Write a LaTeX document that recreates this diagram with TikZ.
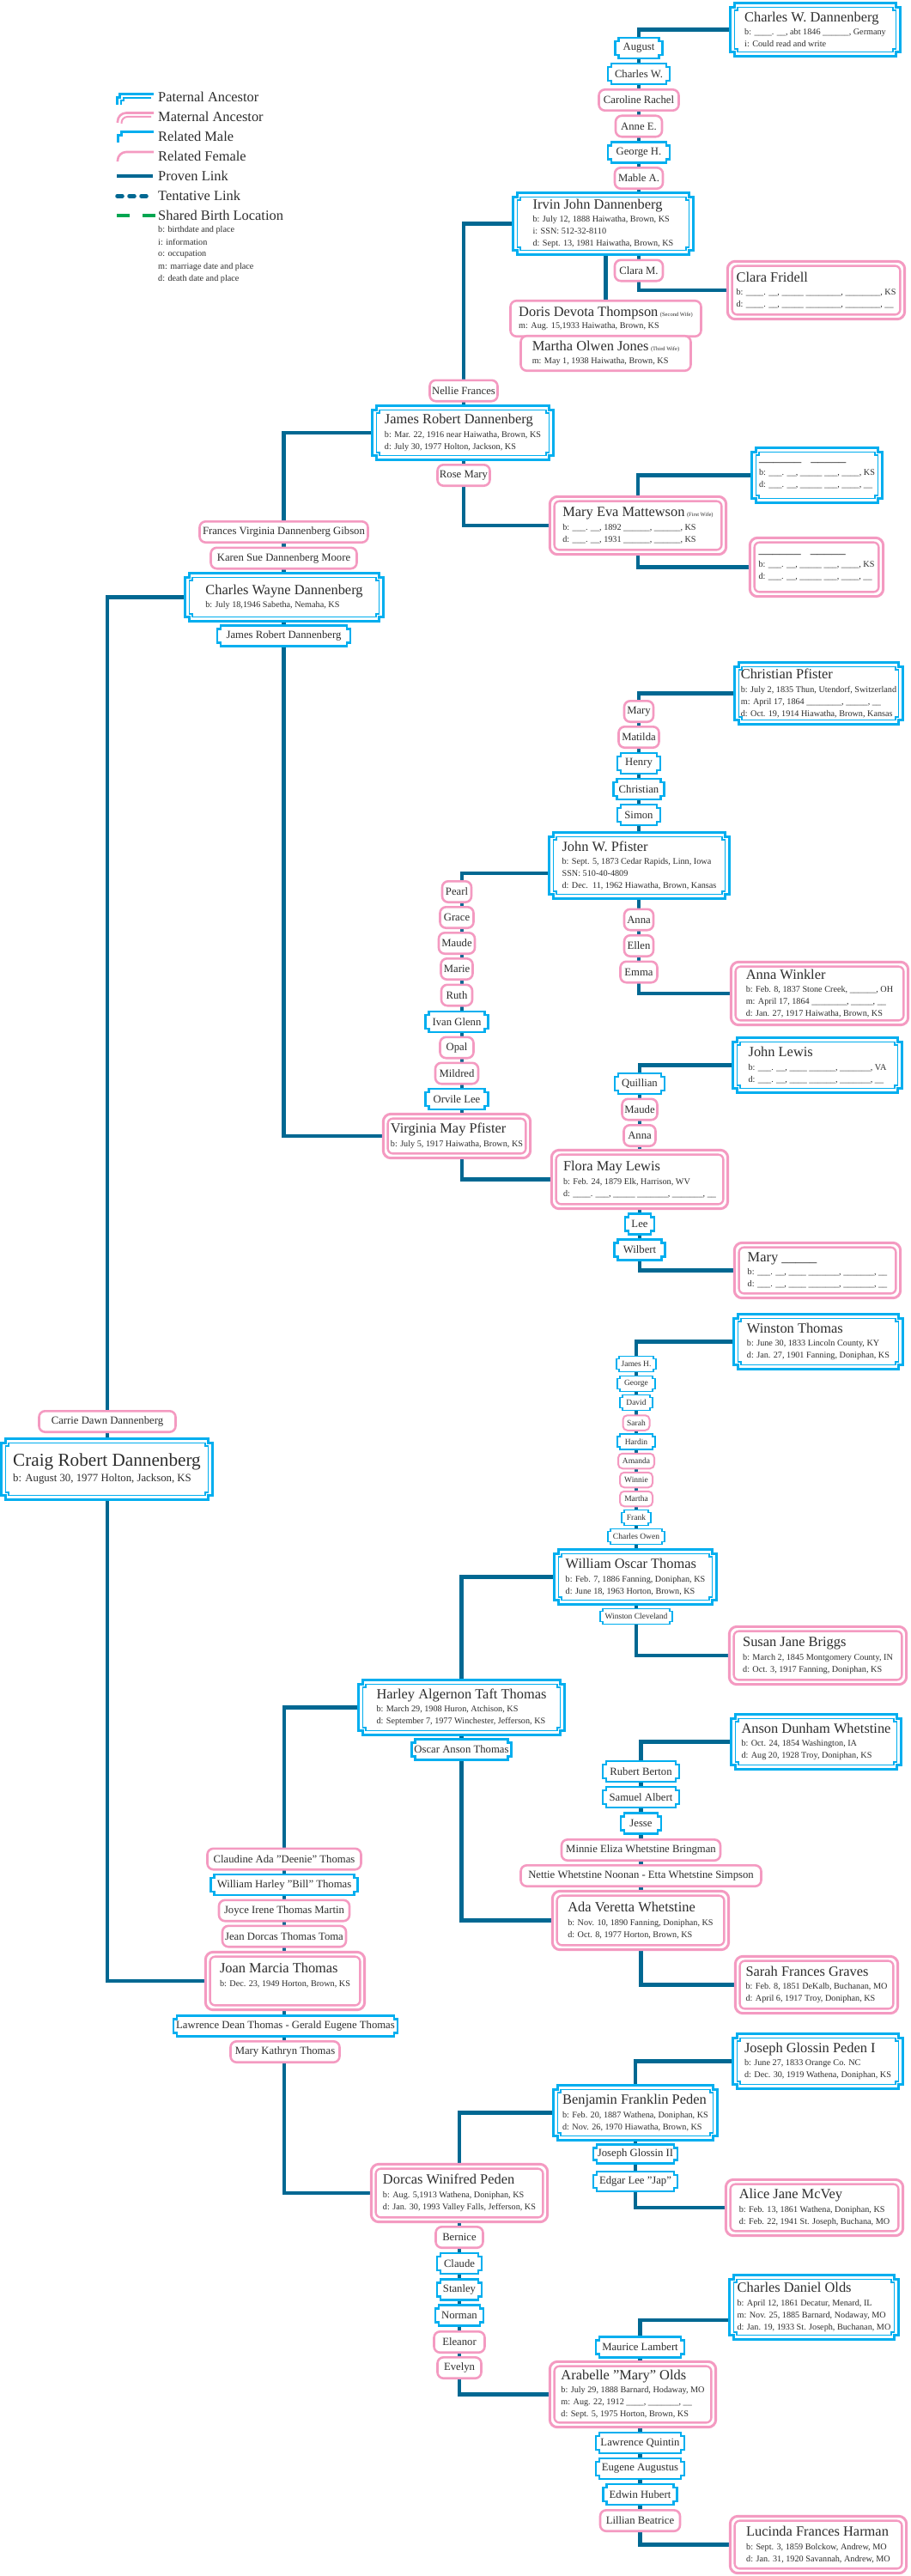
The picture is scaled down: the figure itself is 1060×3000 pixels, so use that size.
\documentclass[tikz,border=0pt]{standalone}
\usepackage{fontspec}
\setmainfont{Liberation Serif}
\usetikzlibrary{calc}
\definecolor{mblue}{RGB}{0,174,239}
\definecolor{fpink}{RGB}{244,154,193}
\definecolor{linkc}{RGB}{0,104,146}
\definecolor{birthg}{RGB}{0,166,81}
\definecolor{txtc}{RGB}{45,45,45}
\pgfdeclarelayer{background}
\pgfsetlayers{background,main}
\newcommand\pname[1]{{\fontsize{16.4pt}{17pt}\selectfont #1}}
\newcommand\wifenote[1]{{\fontsize{6.5pt}{7pt}\selectfont #1}}
% notched frame round a node: node, inset, notch
\newcommand\notchpath[3]{let \p1=(#1.north west), \p2=(#1.south east) in
  (\x1+#2+#3,\y1-#2) -- (\x2-#2-#3,\y1-#2) -- (\x2-#2-#3,\y1-#2-#3) -- (\x2-#2,\y1-#2-#3)
  -- (\x2-#2,\y2+#2+#3) -- (\x2-#2-#3,\y2+#2+#3) -- (\x2-#2-#3,\y2+#2)
  -- (\x1+#2+#3,\y2+#2) -- (\x1+#2+#3,\y2+#2+#3) -- (\x1+#2,\y2+#2+#3)
  -- (\x1+#2,\y1-#2-#3) -- (\x1+#2+#3,\y1-#2-#3) -- cycle}
\begin{document}
\begin{tikzpicture}[x=1pt, y=-1pt,
    every node/.style={text=txtc},
    pat/.style={fill=white, inner sep=0pt, align=left, font=\fontsize{10.2pt}{14pt}\selectfont},
    mat/.style={pat},
    male/.style={fill=white, inner sep=0pt, minimum height=26pt, font=\fontsize{12.7pt}{14pt}\selectfont},
    smale/.style={male, minimum height=19.5pt, font=\fontsize{9.5pt}{11pt}\selectfont},
    female/.style={male, draw=fpink, line width=2.6pt, rounded corners=7pt, minimum height=24.4pt},
    sfemale/.style={female, line width=2pt, rounded corners=5pt, minimum height=17.5pt, font=\fontsize{9.5pt}{11pt}\selectfont},
    link/.style={draw=linkc, line width=4.5pt},
    patout/.style={draw=mblue, line width=3.6pt},
    patin/.style={draw=mblue, line width=1.3pt},
    maleline/.style={draw=mblue, line width=2.4pt},
    matout/.style={draw=fpink, line width=3pt, rounded corners=9pt},
    matin/.style={draw=fpink, line width=2.4pt, rounded corners=6pt}]
    \useasboundingbox (0,0) rectangle (1060,3000);

    % Legend
    \draw[patout, line width=2.4pt] (178.5,109.5) -- (139.5,109.5) -- (139.5,113.5) -- (136.5,113.5) -- (136.5,122);
    \draw[patin, line width=1.2pt] (176,114) -- (144,114) -- (144,117) -- (141,117) -- (141,122);
    \draw[matout, line width=2.6pt, rounded corners=10pt] (179,131.5) -- (137,131.5) -- (137,143);
    \draw[matin, line width=2pt, rounded corners=7pt] (176,136) -- (141.5,136) -- (141.5,144);
    \draw[maleline, line width=2.2pt] (179,153.5) -- (141.5,153.5) -- (141.5,157.5) -- (137.5,157.5) -- (137.5,166);
    \draw[draw=fpink, line width=2.6pt, rounded corners=10pt] (179,177) -- (137,177) -- (137,188);
    \draw[link] (136,205) -- (178,205);
    \draw[link, line cap=round, dash pattern=on 6pt off 8pt] (136.5,228.5) -- (171,228.5);
    \draw[draw=birthg, line width=4.5pt, dash pattern=on 15pt off 15pt] (136,251) -- (181,251);
    \foreach \t [count=\i from 0] in {Paternal Ancestor, Maternal Ancestor, Related Male, Related Female, Proven Link, Tentative Link, Shared Birth Location}
        \node[anchor=west, inner sep=0pt, font=\fontsize{16.4pt}{17pt}\selectfont] (lg\i) at (184,113+23*\i) {\t};
    \foreach \t [count=\i from 0] in {b: birthdate and place, i: information, o: occupation, m: marriage date and place, d: death date and place}
        \node[anchor=west, inner sep=0pt, font=\fontsize{10.2pt}{12pt}\selectfont] (lgk\i) at (184,268+14.3*\i) {\t};

    % Dannenberg line
    \node[pat, minimum width=201pt, minimum height=65pt] (cwd) at (949.5,34.5) {\pname{Charles W. Dannenberg}\\[1.5pt] b: \_\_\_\_. \_\_, abt 1846 \_\_\_\_\_\_, Germany\\ i: Could read and write};
    \node[male, minimum width=57pt] (august) at (744,56) {August};
    \node[male, minimum width=74pt] (charlesw) at (744,86) {Charles W.};
    \node[female, minimum width=93pt] (caroline) at (744,116.5) {Caroline Rachel};
    \node[female, minimum width=54pt] (annee) at (744,147) {Anne E.};
    \node[male, minimum width=74pt] (georgeh) at (744,177.5) {George H.};
    \node[female, minimum width=56pt] (mablea) at (744,207.5) {Mable A.};
    \node[pat, minimum width=213pt, minimum height=75pt] (irvin) at (702.5,260.5) {\pname{Irvin John Dannenberg}\\[1.5pt] b: July 12, 1888 Haiwatha, Brown, KS\\ i: SSN: 512-32-8110\\ d: Sept. 13, 1981 Haiwatha, Brown, KS};
    \node[female, minimum width=56pt] (claram) at (744,315) {Clara M.};
    \node[mat, minimum width=209pt, minimum height=70pt] (clarafr) at (950.5,338) {\pname{Clara Fridell}\\[1.5pt] b: \_\_\_\_. \_\_, \_\_\_\_\_ \_\_\_\_\_\_\_\_, \_\_\_\_\_\_\_\_, KS\\ d: \_\_\_\_. \_\_, \_\_\_\_\_ \_\_\_\_\_\_\_\_, \_\_\_\_\_\_\_\_, \_\_};
    \node[female, align=left, font=\fontsize{10.2pt}{14pt}\selectfont, minimum width=222pt, minimum height=41.5pt] (doris) at (705.5,371) {\pname{Doris Devota Thompson} \wifenote{(Second Wife)}\\[0.5pt] m: Aug. 15,1933 Haiwatha, Brown, KS};
    \node[female, align=left, font=\fontsize{10.2pt}{14pt}\selectfont, minimum width=198pt, minimum height=40.5pt] (martha) at (705.5,411.5) {\pname{Martha Olwen Jones} \wifenote{(Third Wife)}\\[0.5pt] m: May 1, 1938 Haiwatha, Brown, KS};

    % James Robert line
    \node[female, minimum width=79pt] (nellie) at (540,455) {Nellie Frances};
    \node[pat, minimum width=214pt, minimum height=66pt] (jrd) at (539,504) {\pname{James Robert Dannenberg}\\[1.5pt] b: Mar. 22, 1916 near Haiwatha, Brown, KS\\ d: July 30, 1977 Holton, Jackson, KS};
    \node[female, minimum width=61pt] (rosemary) at (540,553.5) {Rose Mary};
    \node[mat, minimum width=208pt, minimum height=70pt] (maryeva) at (743,612) {\pname{Mary Eva Mattewson} \wifenote{(First Wife)}\\[1.5pt] b: \_\_\_. \_\_, 1892 \_\_\_\_\_\_, \_\_\_\_\_\_, KS\\ d: \_\_\_. \_\_, 1931 \_\_\_\_\_\_, \_\_\_\_\_\_, KS};
    \node[pat, minimum width=155pt, minimum height=67pt] (unkm) at (951.5,553.5) {\pname{\_\_\_\_\_\_\hspace{11pt}\_\_\_\_\_}\\[1.5pt] b: \_\_\_. \_\_, \_\_\_\_\_ \_\_\_, \_\_\_\_, KS\\ d: \_\_\_. \_\_, \_\_\_\_\_ \_\_\_, \_\_\_\_, \_\_};
    \node[mat, minimum width=158pt, minimum height=71pt] (unkf) at (951,660.5) {\pname{\_\_\_\_\_\_\hspace{11pt}\_\_\_\_\_}\\[1.5pt] b: \_\_\_. \_\_, \_\_\_\_\_ \_\_\_, \_\_\_\_, KS\\ d: \_\_\_. \_\_, \_\_\_\_\_ \_\_\_, \_\_\_\_, \_\_};

    % Charles Wayne line
    \node[female, minimum width=196pt] (frances) at (330.5,619.5) {Frances Virginia Dannenberg Gibson};
    \node[female, minimum width=170pt] (karen) at (330.5,650) {Karen Sue Dannenberg Moore};
    \node[pat, minimum width=234pt, minimum height=59pt] (cwayne) at (331,695.5) {\pname{Charles Wayne Dannenberg}\\[1.5pt] b: July 18,1946 Sabetha, Nemaha, KS};
    \node[male, minimum width=157pt] (jrdm) at (330.5,740.5) {James Robert Dannenberg};

    % Pfister line
    \node[pat, minimum width=199pt, minimum height=75pt] (cpf) at (953.5,807.5) {\pname{Christian Pfister}\\[1.5pt] b: July 2, 1835 Thun, Utendorf, Switzerland\\ m: April 17, 1864 \_\_\_\_\_\_\_\_, \_\_\_\_\_, \_\_\\ d: Oct. 19, 1914 Hiawatha, Brown, Kansas};
    \node[female, minimum width=34pt] (mary) at (744,828.5) {Mary};
    \node[female, minimum width=47pt] (matilda) at (744,858.5) {Matilda};
    \node[male, minimum width=52pt] (henry) at (744,889) {Henry};
    \node[male, minimum width=61pt] (christian) at (744,919) {Christian};
    \node[male, minimum width=52pt] (simon) at (744,949) {Simon};
    \node[pat, minimum width=213pt, minimum height=80pt] (johnw) at (744.5,1008) {\pname{John W. Pfister}\\[1.5pt] b: Sept. 5, 1873 Cedar Rapids, Linn, Iowa\\ SSN: 510-40-4809\\ d: Dec.~~11, 1962 Hiawatha, Brown, Kansas};
    \node[female, minimum width=34pt] (anna1) at (744,1071) {Anna};
    \node[female, minimum width=34pt] (ellen) at (744,1101.5) {Ellen};
    \node[female, minimum width=43pt] (emma) at (744,1132) {Emma};
    \node[mat, minimum width=209pt, minimum height=76pt] (annaw) at (954.5,1157) {\pname{Anna Winkler}\\[1.5pt] b: Feb. 8, 1837 Stone Creek, \_\_\_\_\_\_, OH\\ m: April 17, 1864 \_\_\_\_\_\_\_\_, \_\_\_\_\_, \_\_\\ d: Jan. 27, 1917 Haiwatha, Brown, KS};

    \coordinate (pchain) at (538,1017);
    \node[female, minimum width=34pt] (pearl) at (532,1038.5) {Pearl};
    \node[female, minimum width=39pt] (grace) at (532,1068.5) {Grace};
    \node[female, minimum width=42pt] (maude1) at (532,1098.5) {Maude};
    \node[female, minimum width=37pt] (marie) at (532,1128.5) {Marie};
    \node[female, minimum width=36pt] (ruth) at (532,1159) {Ruth};
    \node[male, minimum width=75pt] (ivan) at (532,1190) {Ivan Glenn};
    \node[female, minimum width=39pt] (opal) at (532,1220) {Opal};
    \node[female, minimum width=50pt] (mildred) at (532,1250) {Mildred};
    \node[male, minimum width=75pt] (orvile) at (532,1280) {Orvile Lee};
    \node[mat, minimum width=174pt, minimum height=54pt] (virginia) at (532,1323) {\pname{Virginia May Pfister}\\[1.5pt] b: July 5, 1917 Haiwatha, Brown, KS};
    \node[mat, minimum width=208pt, minimum height=71pt] (flora) at (745,1373.5) {\pname{Flora May Lewis}\\[1.5pt] b: Feb. 24, 1879 Elk, Harrison, WV\\ d: \_\_\_\_. \_\_\_, \_\_\_\_\_ \_\_\_\_\_\_\_, \_\_\_\_\_\_\_, \_\_};

    % Lewis line
    \node[pat, minimum width=200pt, minimum height=67pt] (jlewis) at (952,1240.5) {\pname{John Lewis}\\[1.5pt] b: \_\_\_. \_\_, \_\_\_\_ \_\_\_\_\_\_, \_\_\_\_\_\_\_, VA\\ d: \_\_\_. \_\_, \_\_\_\_ \_\_\_\_\_\_, \_\_\_\_\_\_\_, \_\_};
    \node[male, minimum width=60pt] (quillian) at (745,1262) {Quillian};
    \node[female, minimum width=41pt] (maude2) at (745,1292) {Maude};
    \node[female, minimum width=37pt] (anna2) at (745,1322.5) {Anna};
    \node[male, minimum width=36pt] (lee) at (745,1425.5) {Lee};
    \node[male, minimum width=61pt] (wilbert) at (745,1455.5) {Wilbert};
    \node[mat, minimum width=196pt, minimum height=67pt] (maryl) at (952,1479.5) {\pname{Mary \_\_\_\_\_}\\[1.5pt] b: \_\_\_. \_\_, \_\_\_\_ \_\_\_\_\_\_\_, \_\_\_\_\_\_\_, \_\_\\ d: \_\_\_. \_\_, \_\_\_\_ \_\_\_\_\_\_\_, \_\_\_\_\_\_\_, \_\_};

    % Thomas line
    \node[pat, minimum width=200pt, minimum height=67pt] (wthomas) at (953,1562.5) {\pname{Winston Thomas}\\[1.5pt] b: June 30, 1833 Lincoln County, KY\\ d: Jan. 27, 1901 Fanning, Doniphan, KS};
    \node[smale, minimum width=48pt] (jamesh) at (741,1588.5) {James H.};
    \node[smale, minimum width=45pt] (george) at (741,1611.5) {George};
    \node[smale, minimum width=39pt] (david) at (741,1633.5) {David};
    \node[sfemale, minimum width=31pt] (sarah) at (741,1657) {Sarah};
    \node[smale, minimum width=45pt] (hardin) at (741,1679) {Hardin};
    \node[sfemale, minimum width=42pt] (amanda) at (741,1701.5) {Amanda};
    \node[sfemale, minimum width=38pt] (winnie) at (741,1723.5) {Winnie};
    \node[sfemale, minimum width=38pt] (martha2) at (741,1745.5) {Martha};
    \node[smale, minimum width=36pt] (frank) at (741,1767.5) {Frank};
    \node[smale, minimum width=67pt] (charleso) at (741,1789.5) {Charles Owen};
    \node[pat, minimum width=192pt, minimum height=67pt] (woscar) at (740,1836.5) {\pname{William Oscar Thomas}\\[1.5pt] b: Feb. 7, 1886 Fanning, Doniphan, KS\\ d: June 18, 1963 Horton, Brown, KS};
    \node[smale, minimum width=86pt] (winstonc) at (741,1882.5) {Winston Cleveland};
    \node[mat, minimum width=209pt, minimum height=70pt] (susan) at (952.5,1928) {\pname{Susan Jane Briggs}\\[1.5pt] b: March 2, 1845 Montgomery County, IN\\ d: Oct. 3, 1917 Fanning, Doniphan, KS};

    \node[pat, minimum width=243pt, minimum height=67pt] (harley) at (537.5,1988.5) {\pname{Harley Algernon Taft Thomas}\\[1.5pt] b: March 29, 1908 Huron, Atchison, KS\\ d: September 7, 1977 Winchester, Jefferson, KS};
    \node[male, minimum width=118pt] (oscaran) at (537.5,2037.5) {Oscar Anson Thomas};

    % Whetstine line
    \node[pat, minimum width=201pt, minimum height=67pt] (anson) at (950.5,2028.5) {\pname{Anson Dunham Whetstine}\\[1.5pt] b: Oct. 24, 1854 Washington, IA\\ d: Aug 20, 1928 Troy, Doniphan, KS};
    \node[male, minimum width=91pt] (rubert) at (746.5,2063) {Rubert Berton};
    \node[male, minimum width=91pt] (samuel) at (746.5,2093) {Samuel Albert};
    \node[male, minimum width=49pt] (jesse) at (746.5,2123.5) {Jesse};
    \node[female, minimum width=185pt] (minnie) at (746.5,2154.5) {Minnie Eliza Whetstine Bringman};
    \node[female, minimum width=280pt] (nettie) at (746.5,2184.5) {Nettie Whetstine Noonan - Etta Whetstine Simpson};
    \node[mat, minimum width=208pt, minimum height=71pt] (ada) at (746,2236.5) {\pname{Ada Veretta Whetstine}\\[1.5pt] b: Nov. 10, 1890 Fanning, Doniphan, KS\\ d: Oct. 8, 1977 Horton, Brown, KS};
    \node[mat, minimum width=192pt, minimum height=69pt] (sarahg) at (951,2311.5) {\pname{Sarah Frances Graves}\\[1.5pt] b: Feb. 8, 1851 DeKalb, Buchanan, MO\\ d: April 6, 1917 Troy, Doniphan, KS};

    % Joan line
    \node[female, minimum width=179pt] (claudine) at (331,2165) {Claudine Ada "Deenie" Thomas};
    \node[male, minimum width=173pt] (william) at (331,2195) {William Harley "Bill" Thomas};
    \node[female, minimum width=152pt] (joyce) at (331,2225) {Joyce Irene Thomas Martin};
    \node[female, minimum width=144pt] (jean) at (331,2255) {Jean Dorcas Thomas Toma};
    \node[mat, minimum width=188pt, minimum height=70pt] (joan) at (332,2307) {\pname{Joan Marcia Thomas}\\[1.5pt] b: Dec. 23, 1949 Horton, Brown, KS\\ \mbox{}};
    \node[male, minimum width=263pt] (lawrence) at (332.5,2359.5) {Lawrence Dean Thomas - Gerald Eugene Thomas};
    \node[female, minimum width=127pt] (marykath) at (332,2389.5) {Mary Kathryn Thomas};
    \node[mat, minimum width=208pt, minimum height=70pt] (dorcas) at (535,2554) {\pname{Dorcas Winifred Peden}\\[1.5pt] b: Aug. 5,1913 Wathena, Doniphan, KS\\ d: Jan. 30, 1993 Valley Falls, Jefferson, KS};

    % Peden line
    \node[pat, minimum width=201pt, minimum height=67pt] (jgp) at (952.5,2400.5) {\pname{Joseph Glossin Peden I}\\[1.5pt] b: June 27, 1833 Orange Co. NC\\ d: Dec. 30, 1919 Wathena, Doniphan, KS};
    \node[pat, minimum width=194pt, minimum height=67pt] (benjamin) at (740,2460.5) {\pname{Benjamin Franklin Peden}\\[1.5pt] b: Feb. 20, 1887 Wathena, Doniphan, KS\\ d: Nov. 26, 1970 Hiawatha, Brown, KS};
    \node[male, minimum width=100pt, minimum height=24pt] (jgii) at (740,2508.5) {Joseph Glossin II};
    \node[male, minimum width=100pt, minimum height=25pt] (edgar) at (740,2540.5) {Edgar Lee "Jap"};
    \node[mat, minimum width=209pt, minimum height=68pt] (alice) at (948.5,2571) {\pname{Alice Jane McVey}\\[1.5pt] b: Feb. 13, 1861 Wathena, Doniphan, KS\\ d: Feb. 22, 1941 St. Joseph, Buchana, MO};

    \node[female, minimum width=55pt] (bernice) at (535,2605.5) {Bernice};
    \node[male, minimum width=54pt] (claude) at (535,2636) {Claude};
    \node[male, minimum width=54pt] (stanley) at (535,2666.5) {Stanley};
    \node[male, minimum width=58pt] (norman) at (535,2696.5) {Norman};
    \node[female, minimum width=59pt] (eleanor) at (535,2727.5) {Eleanor};
    \node[female, minimum width=51pt] (evelyn) at (535,2757.5) {Evelyn};
    \node[mat, minimum width=196pt, minimum height=79pt] (arabelle) at (737,2788.5) {\pname{Arabelle "Mary" Olds}\\[1.5pt] b: July 29, 1888 Barnard, Hodaway, MO\\ m: Aug. 22, 1912 \_\_\_\_, \_\_\_\_\_\_\_, \_\_\\ d: Sept. 5, 1975 Horton, Brown, KS};

    % Olds line
    \node[pat, minimum width=200pt, minimum height=78pt] (cdo) at (948,2687) {\pname{Charles Daniel Olds}\\[1.5pt] b: April 12, 1861 Decatur, Menard, IL\\ m: Nov. 25, 1885 Barnard, Nodaway, MO\\ d: Jan. 19, 1933 St. Joseph, Buchanan, MO};
    \coordinate (ochain) at (745.5,2702);
    \node[male, minimum width=105pt] (maurice) at (745.5,2733.5) {Maurice Lambert};
    \node[male, minimum width=105pt] (lawrenceq) at (745.5,2845) {Lawrence Quintin};
    \node[male, minimum width=105pt] (eugene) at (745.5,2875) {Eugene Augustus};
    \node[male, minimum width=88pt] (edwin) at (745.5,2905) {Edwin Hubert};
    \node[female, minimum width=93pt] (lillian) at (745.5,2935.5) {Lillian Beatrice};
    \node[mat, minimum width=208pt, minimum height=69pt] (lucinda) at (953,2963.5) {\pname{Lucinda Frances Harman}\\[1.5pt] b: Sept. 3, 1859 Bolckow, Andrew, MO\\ d: Jan. 31, 1920 Savannah, Andrew, MO};

    % Craig
    \node[female, minimum width=159pt] (carrie) at (125,1655.5) {Carrie Dawn Dannenberg};
    \node[pat, minimum width=249pt, minimum height=74pt, font=\fontsize{12.8pt}{16pt}\selectfont] (craig) at (124.5,1711) {{\fontsize{21.2pt}{22pt}\selectfont Craig Robert Dannenberg}\\[2pt] b: August 30, 1977 Holton, Jackson, KS};

    % Frames
    \foreach \bx in {cwd,irvin,jrd,unkm,cwayne,cpf,johnw,jlewis,wthomas,woscar,harley,anson,jgp,benjamin,cdo,craig} {
        \draw[patout] \notchpath{\bx}{1.8pt}{5pt};
        \draw[patin] \notchpath{\bx}{6.7pt}{3.5pt};
    }
    \foreach \bx in {clarafr,maryeva,unkf,virginia,annaw,flora,maryl,susan,ada,sarahg,joan,dorcas,alice,arabelle,lucinda} {
        \draw[matout] ($(\bx.north west)+(1.5pt,-1.5pt)$) rectangle ($(\bx.south east)+(-1.5pt,1.5pt)$);
        \draw[matin] ($(\bx.north west)+(6.8pt,-6.8pt)$) rectangle ($(\bx.south east)+(-6.8pt,6.8pt)$);
    }
    \foreach \bx in {august,charlesw,georgeh,jrdm,henry,christian,simon,ivan,orvile,quillian,lee,wilbert,oscaran,rubert,samuel,jesse,william,lawrence,jgii,edgar,claude,stanley,norman,maurice,lawrenceq,eugene,edwin}
        \draw[maleline] \notchpath{\bx}{1.2pt}{4pt};
    \foreach \bx in {jamesh,george,david,hardin,frank,charleso,winstonc}
        \draw[maleline, line width=1.8pt] \notchpath{\bx}{0.9pt}{3pt};

    % Links
    \begin{pgfonlayer}{background}
        \fill[white] (0,0) rectangle (1060,3000);
        \draw[link] (cwd.west) -| (august.north) -- (august |- clarafr.west) -- (clarafr.west);
        \draw[link] (doris.north) -- (doris.north |- irvin.south);
        \draw[link] (irvin.west) -| (nellie.north) -- (nellie |- maryeva.west) -- (maryeva.west);
        \draw[link] (unkm.west) -| (maryeva.north);
        \draw[link] (maryeva.south) |- (unkf.west);
        \draw[link] (jrd.west) -| (frances.north) -- (frances |- virginia.west) -- (virginia.west);
        \draw[link] (cwayne.west) -| (carrie.north) -- (carrie |- joan.west) -- (joan.west);
        \draw[link] (cpf.west) -| (mary.north) -- (mary |- annaw.west) -- (annaw.west);
        \draw[link] (johnw.west |- pchain) -- (pchain) -- (pchain |- flora.west) -- (flora.west);
        \draw[link] (jlewis.west) -| (quillian.north) -- (quillian |- maryl.west) -- (maryl.west);
        \draw[link] (wthomas.west) -| (jamesh.north) -- (jamesh |- susan.west) -- (susan.west);
        \draw[link] (woscar.west) -| (oscaran.north) -- (oscaran |- ada.west) -- (ada.west);
        \draw[link] (anson.west) -| (rubert.north) -- (rubert |- sarahg.west) -- (sarahg.west);
        \draw[link] (harley.west) -| (claudine.north) -- (claudine |- dorcas.west) -- (dorcas.west);
        \draw[link] (jgp.west) -| (jgii.north) -- (jgii |- alice.west) -- (alice.west);
        \draw[link] (benjamin.west) -| (bernice.north) -- (bernice |- arabelle.west) -- (arabelle.west);
        \draw[link] (cdo.west |- ochain) -- (ochain) -- (ochain |- lucinda.west) -- (lucinda.west);
    \end{pgfonlayer}
\end{tikzpicture}
\end{document}
